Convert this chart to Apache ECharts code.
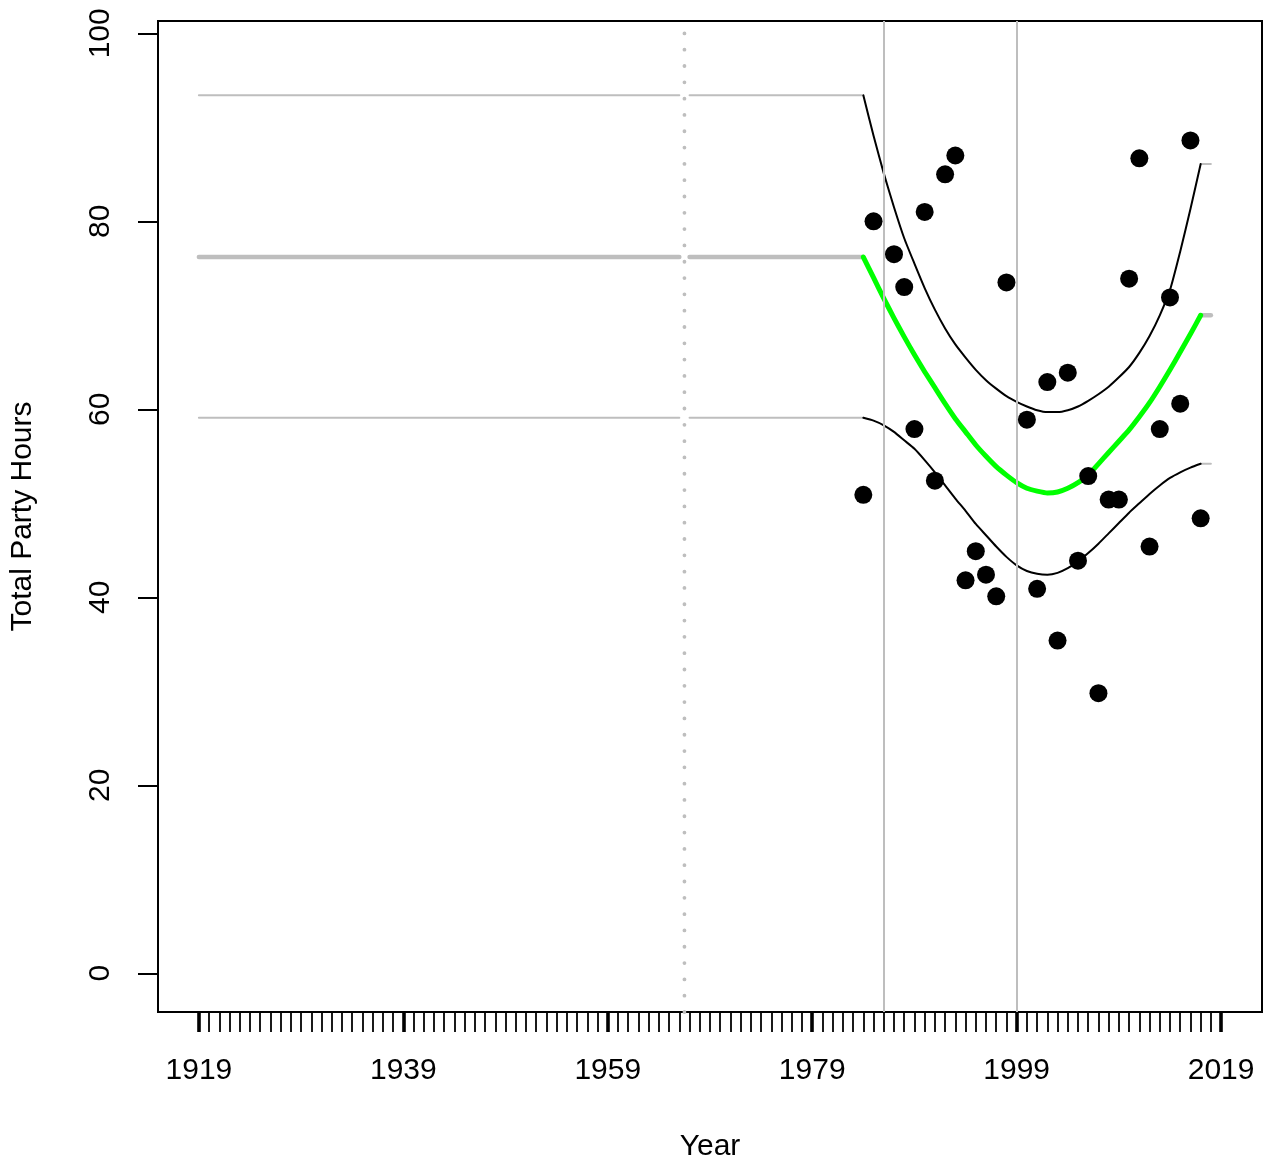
<!DOCTYPE html>
<html><head><meta charset="utf-8">
<script src="https://cdn.jsdelivr.net/npm/echarts@6/dist/echarts.min.js"></script>
<style>html,body{margin:0;padding:0;background:#fff}#c{width:1271px;height:1168px}</style>
</head><body><div id="c"></div>
<script>
// ---- data ----
const pointYears  = [1984,1985,1987,1988,1989,1990,1991,1992,1993,1994,1995,1996,1997,1998,2000,2001,2002,2003,2004,2005,2006,2007,2008,2009,2010,2011,2012,2013,2014,2015,2016,2017];
const pointValues = [50.9,80.0,76.5,73.0,57.9,81.0,52.4,85.0,87.0,41.8,44.9,42.4,40.1,73.5,58.9,40.9,62.9,35.4,63.9,43.9,52.9,29.8,50.4,50.4,73.9,86.7,45.4,57.9,71.9,60.6,88.6,48.4];

const fitYears = [1984,1985,1986,1987,1988,1989,1990,1991,1992,1993,1994,1995,1996,1997,1998,1999,2000,2001,2002,2003,2004,2005,2006,2007,2008,2009,2010,2011,2012,2013,2014,2015,2016,2017];
const fitMean  = [76.2,74.0,71.8,69.7,67.7,65.8,64.0,62.3,60.6,59.0,57.6,56.2,55.0,53.9,53.0,52.2,51.6,51.3,51.1,51.2,51.6,52.2,53.0,54.2,55.4,56.6,57.8,59.2,60.7,62.4,64.2,66.1,68.0,70.0];
const fitUpper = [93.4,89.1,85.1,81.5,78.2,75.5,72.9,70.6,68.6,66.9,65.5,64.2,63.1,62.2,61.4,60.8,60.3,59.9,59.7,59.7,59.9,60.3,60.9,61.6,62.4,63.4,64.5,66.0,67.8,70.0,72.7,76.8,81.3,86.1];
const fitLower = [59.1,58.8,58.3,57.6,56.7,55.8,54.6,53.3,51.9,50.5,49.2,47.8,46.6,45.4,44.3,43.4,42.8,42.5,42.4,42.6,43.1,43.8,44.7,45.7,46.8,47.9,49.0,50.0,51.0,51.9,52.7,53.3,53.8,54.2];

const histSegments = [[1919,1966],[1967,1984]];
const histMean = 76.2, histUpper = 93.4, histLower = 59.1;
const tailYears = [2017,2018];
const tailMean = 70.0, tailUpper = 86.1, tailLower = 54.2;

const refYears = [1986,1999];
const dottedYear = 1966.5;

const xMajorTicks = [1919,1939,1959,1979,1999,2019];
const xMinorFrom = 1919, xMinorTo = 2019;
const yTicks = [0,20,40,60,80,100];

const X_MIN = 1915, X_MAX = 2023, Y_MIN = -4.12, Y_MAX = 101.31;

// ---- build ----
const xMinorTicks = [];
for (let y = xMinorFrom; y <= xMinorTo; y++) xMinorTicks.push(y);

const GRAY = '#BEBEBE';
const FONT = '"Liberation Sans", Arial, Helvetica, sans-serif';
const series = [];

// reference vertical lines
series.push({
  type: 'line', data: [], silent: true, z: 1,
  markLine: {
    symbol: 'none', silent: true, animation: false,
    label: {show: false},
    lineStyle: {color: GRAY, width: 2, type: 'solid'},
    data: refYears.map(v => ({xAxis: v}))
  }
});
// dotted vertical line (drawn bottom to top)
series.push({
  type: 'line', silent: true, z: 1, showSymbol: false,
  data: [[dottedYear, Y_MIN], [dottedYear, Y_MAX]],
  lineStyle: {color: GRAY, width: 3.8, type: [0.01, 16.3], cap: 'round'}
});

function flat(xs, v, w) {
  series.push({
    type: 'line', silent: true, z: 2, showSymbol: false,
    data: xs.map(x => [x, v]),
    lineStyle: {color: GRAY, width: w, cap: 'round'}
  });
}
histSegments.forEach(seg => {
  flat(seg, histUpper, 2);
  flat(seg, histLower, 2);
  flat(seg, histMean, 4.5);
});
flat(tailYears, tailUpper, 2);
flat(tailYears, tailLower, 2);
flat(tailYears, tailMean, 4.5);

function curve(vals, color, w, z) {
  series.push({
    type: 'line', silent: true, z: z, showSymbol: false, smooth: 0.2,
    data: fitYears.map((x, i) => [x, vals[i]]),
    lineStyle: {color: color, width: w, cap: 'round', join: 'round'}
  });
}
curve(fitUpper, '#000', 2, 3);
curve(fitLower, '#000', 2, 3);
curve(fitMean, '#00FF00', 5, 4);

series.push({
  type: 'scatter', silent: true, z: 5, symbolSize: 18,
  itemStyle: {color: '#000', opacity: 1},
  data: pointYears.map((x, i) => [x, pointValues[i]])
});

const fmt = v => String(Math.round(v));

const chart = echarts.init(document.getElementById('c'), null, {renderer: 'canvas'});
chart.setOption({
  animation: false,
  backgroundColor: '#fff',
  grid: {left: 157, right: 9, top: 21, bottom: 156, show: true, borderColor: '#000', borderWidth: 2, backgroundColor: 'transparent'},
  xAxis: [
    {
      type: 'value', min: X_MIN, max: X_MAX, position: 'bottom',
      axisLine: {show: false, onZero: false}, splitLine: {show: false},
      axisTick: {show: true, customValues: xMinorTicks, length: 20, lineStyle: {color: '#000', width: 1.8}},
      axisLabel: {show: false},
      name: 'Year', nameLocation: 'middle', nameGap: 120,
      nameTextStyle: {fontFamily: FONT, fontSize: 30, color: '#000'}
    },
    {
      type: 'value', min: X_MIN, max: X_MAX, position: 'bottom', gridIndex: 0,
      axisLine: {show: false, onZero: false}, splitLine: {show: false},
      axisTick: {show: true, customValues: xMajorTicks, length: 20, lineStyle: {color: '#000', width: 3.6}},
      axisLabel: {show: true, customValues: xMajorTicks, formatter: fmt, margin: 44, fontFamily: FONT, fontSize: 30, color: '#000'}
    }
  ],
  yAxis: {
    type: 'value', min: Y_MIN, max: Y_MAX,
    axisLine: {show: false, onZero: false}, splitLine: {show: false},
    axisTick: {show: true, customValues: yTicks, length: 20, lineStyle: {color: '#000', width: 2}},
    axisLabel: {show: true, customValues: yTicks, formatter: fmt, rotate: 90, margin: 42, fontFamily: FONT, fontSize: 30, color: '#000'},
    name: 'Total Party Hours', nameLocation: 'middle', nameGap: 120, nameRotate: 90,
    nameTextStyle: {fontFamily: FONT, fontSize: 30, color: '#000'}
  },
  series: series
});
</script>
</body></html>
